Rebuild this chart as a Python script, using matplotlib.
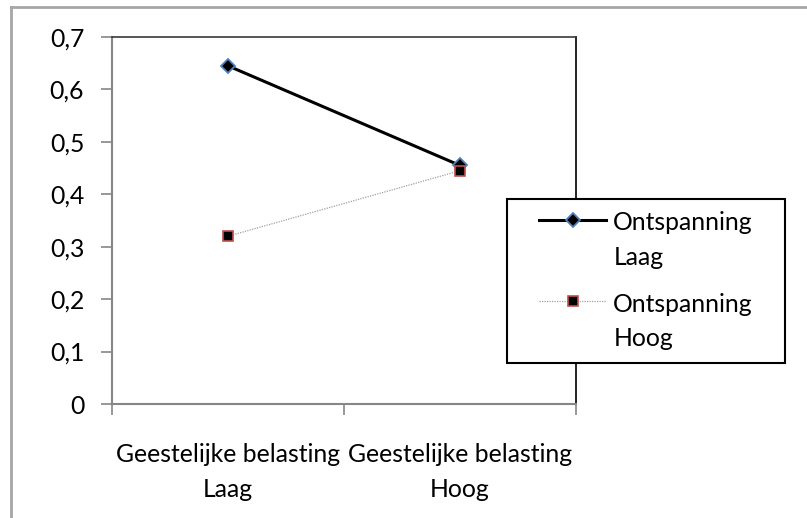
import matplotlib.pyplot as plt
from matplotlib.lines import Line2D
from matplotlib.legend_handler import HandlerLine2D

# data
categories = ["Geestelijke belasting\nLaag", "Geestelijke belasting\nHoog"]
series_names = ["Ontspanning\nLaag", "Ontspanning\nHoog"]
ontspanning_laag = [0.645, 0.455]
ontspanning_hoog = [0.32, 0.445]
y_ticks = [0, 0.1, 0.2, 0.3, 0.4, 0.5, 0.6, 0.7]
y_tick_labels = ["0", "0,1", "0,2", "0,3", "0,4", "0,5", "0,6", "0,7"]

plt.rcParams["font.family"] = ["Lato", "DejaVu Sans"]
fs = 17.8

W, H = 807, 518
fig = plt.figure(figsize=(W / 100, H / 100), dpi=100)
ax = fig.add_axes([112 / W, 1 - 404 / H, (576 - 112) / W, (404 - 37) / H])

# outer chart frame (cut off at right and bottom)
frame_col = "#a6a6a6"
fig.add_artist(Line2D([11 / W, 11 / W], [1 - 7 / H, 0], color=frame_col, lw=2))
fig.add_artist(Line2D([11 / W, 1], [1 - 7 / H, 1 - 7 / H], color=frame_col, lw=2))

x = list(range(len(categories)))
ax.plot(x, ontspanning_laag, color="black", lw=2.2, marker="D", ms=7,
        mfc="black", mec="#4f81bd", mew=1.3, label=series_names[0], zorder=3)
ax.plot(x, ontspanning_hoog, color="#a0a0a0", lw=0.9, ls=(0, (1, 1)), marker="s", ms=7,
        mfc="black", mec="#c0504d", mew=1.2, label=series_names[1], zorder=3)

ax.set_xlim(-0.5, len(categories) - 0.5)
ax.set_ylim(0, 0.7)

# category boundaries as tick marks, labels at the category centres
ax.set_xticks([i - 0.5 for i in range(len(categories) + 1)])
ax.set_xticklabels([])
ax.set_xticks(x, categories, minor=True)
ax.tick_params(axis="x", which="major", length=8, width=1.2, color="#868686", direction="out")
ax.tick_params(axis="x", which="minor", length=0, pad=28, labelsize=fs)
for t in ax.get_xticklabels(minor=True):
    t.set_linespacing(1.65)

ax.set_yticks(y_ticks, y_tick_labels)
ax.tick_params(axis="y", length=8, width=1.2, color="#868686", pad=12, labelsize=fs)

for side in ["left", "bottom"]:
    ax.spines[side].set_color("#868686")
    ax.spines[side].set_linewidth(1.5)
ax.spines["top"].set_color("#3a3a3a")
ax.spines["top"].set_linewidth(1.2)
ax.spines["right"].set_color("black")
ax.spines["right"].set_linewidth(1.2)

leg = ax.legend(loc="upper left", bbox_to_anchor=(507 / W, 1 - 199 / H, 278 / W, 0),
                bbox_transform=fig.transFigure, mode="expand", fontsize=fs, frameon=True,
                fancybox=False, edgecolor="black", framealpha=1, borderpad=0.5,
                handlelength=3.5, handletextpad=0.3, labelspacing=0.95,
                borderaxespad=0, numpoints=1,
                handler_map={Line2D: HandlerLine2D(numpoints=1, xpad=0.8)})
leg.get_frame().set_linewidth(1.5)
leg.set_zorder(5)
for t in leg.get_texts():
    t.set_linespacing(1.62)
# put the handle next to the first line of each label
for col in leg._legend_handle_box.get_children():
    for item in col.get_children():
        item.align = "top"

fig.savefig("out.png", dpi=100)
